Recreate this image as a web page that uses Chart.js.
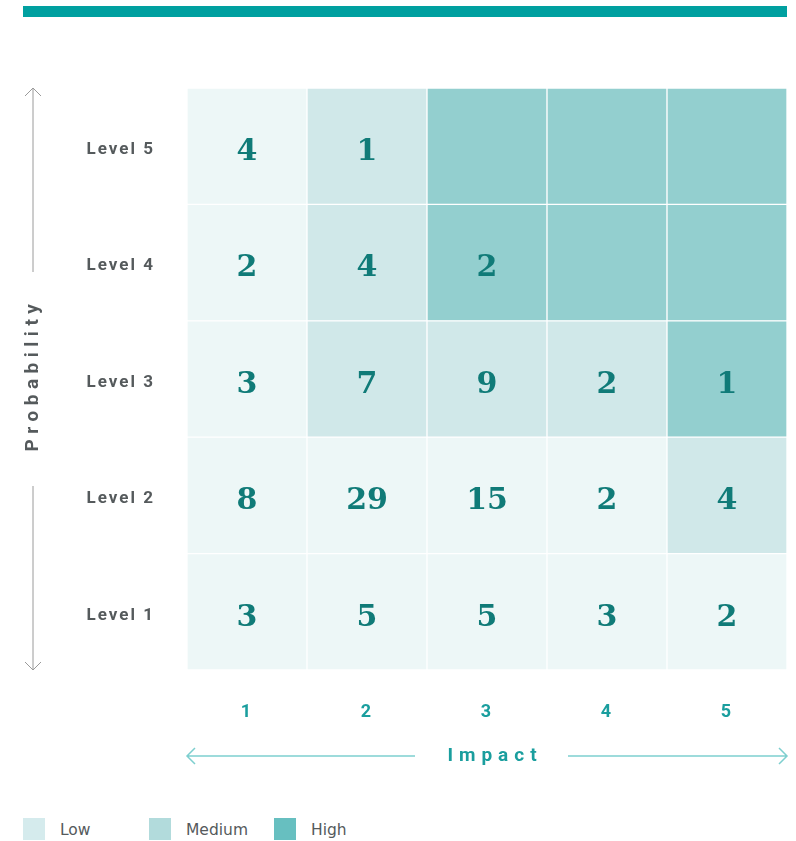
<!DOCTYPE html>
<html>
<head>
<meta charset="utf-8">
<script src="https://cdn.jsdelivr.net/npm/chart.js@4.4.1/dist/chart.umd.min.js"></script>
<style>
  html, body { margin: 0; padding: 0; background: #fff; }
  body { width: 796px; height: 841px; position: relative; overflow: hidden; }
  .topbar { position: absolute; left: 23px; top: 6px; width: 764px; height: 11px; background: #00a0a0; }
  .chartbox { position: absolute; left: 0; top: 0; width: 796px; height: 800px; }
  .legend { position: absolute; left: 0; top: 818px; font-family: "DejaVu Sans", sans-serif; font-size: 15.5px; color: #555a5c; }
  .legend span { position: absolute; top: 0; white-space: nowrap; }
  .legend i { position: absolute; top: 0; width: 22px; height: 22px; }
</style>
</head>
<body>
<div class="topbar"></div>
<div class="chartbox"><canvas id="riskChart"></canvas></div>
<div class="legend" id="legend"></div>
<script>
document.addEventListener('DOMContentLoaded', () => {
    const impactLabels = ['1', '2', '3', '4', '5'];
    const levelLabels = ['Level 1', 'Level 2', 'Level 3', 'Level 4', 'Level 5'];

    // counts per probability level (bottom to top), one value per impact column
    const level1Counts = [3, 5, 5, 3, 2];
    const level2Counts = [8, 29, 15, 2, 4];
    const level3Counts = [3, 7, 9, 2, 1];
    const level4Counts = [2, 4, 2, null, null];
    const level5Counts = [4, 1, null, null, null];

    // risk rating per cell: L = low, M = medium, H = high
    const level1Rating = ['L', 'L', 'L', 'L', 'L'];
    const level2Rating = ['L', 'L', 'L', 'L', 'M'];
    const level3Rating = ['L', 'M', 'M', 'M', 'H'];
    const level4Rating = ['L', 'M', 'H', 'H', 'H'];
    const level5Rating = ['L', 'M', 'H', 'H', 'H'];

    const legendNames = ['Low', 'Medium', 'High'];

    const counts = [level1Counts, level2Counts, level3Counts, level4Counts, level5Counts];
    const ratings = [level1Rating, level2Rating, level3Rating, level4Rating, level5Rating];

    const cellColors = { L: '#edf7f7', M: '#d0e8e9', H: '#93cfcf' };
    const legendColors = ['#d5ebed', '#b2dbdc', '#67bfc0'];

    const datasets = levelLabels.map((label, i) => ({
        label,
        data: impactLabels.map(() => 1),
        backgroundColor: ratings[i].map(r => cellColors[r]),
        borderColor: '#ffffff',
        borderWidth: 1,
        borderSkipped: false,
        barPercentage: 1,
        categoryPercentage: 1
    }));

    // letter spacing for the axis tick labels
    const spacingPlugin = {
        id: 'spacing',
        beforeDraw(chart) { chart.ctx.letterSpacing = '2px'; },
        beforeDatasetsDraw(chart) { chart.ctx.letterSpacing = '0px'; }
    };

    // numbers inside the cells
    const cellText = {
        id: 'cellText',
        afterDatasetsDraw(chart) {
            const ctx = chart.ctx;
            ctx.save();
            ctx.font = 'bold 30px "DejaVu Serif", serif';
            ctx.fillStyle = '#107b78';
            ctx.textAlign = 'center';
            ctx.textBaseline = 'middle';
            chart.data.datasets.forEach((ds, i) => {
                chart.getDatasetMeta(i).data.forEach((bar, j) => {
                    const v = counts[i][j];
                    if (v === null) return;
                    ctx.fillText(String(v), bar.x, (bar.y + bar.base) / 2 + 6);
                });
            });
            ctx.restore();
        }
    };

    // axis titles with arrows
    const axisArrows = {
        id: 'axisArrows',
        afterDraw(chart) {
            const ctx = chart.ctx;
            const area = chart.chartArea;
            ctx.save();

            // Impact
            const iy = 756;
            ctx.strokeStyle = '#7dcfcf';
            ctx.lineWidth = 1.5;
            ctx.beginPath();
            ctx.moveTo(area.left, iy); ctx.lineTo(415, iy);
            ctx.moveTo(568, iy); ctx.lineTo(area.right, iy);
            ctx.moveTo(area.left + 8, iy - 8); ctx.lineTo(area.left, iy); ctx.lineTo(area.left + 8, iy + 8);
            ctx.moveTo(area.right - 8, iy - 8); ctx.lineTo(area.right, iy); ctx.lineTo(area.right - 8, iy + 8);
            ctx.stroke();
            ctx.letterSpacing = '6px';
            ctx.font = 'bold 19px Roboto, sans-serif';
            ctx.fillStyle = '#1a9e9e';
            ctx.textAlign = 'center';
            ctx.textBaseline = 'middle';
            ctx.fillText('Impact', 495, iy);

            // Probability
            const px = 33;
            ctx.strokeStyle = '#9a9a9a';
            ctx.lineWidth = 1;
            ctx.beginPath();
            ctx.moveTo(px, area.top); ctx.lineTo(px, 272);
            ctx.moveTo(px, 486); ctx.lineTo(px, area.bottom);
            ctx.moveTo(px - 8, area.top + 8); ctx.lineTo(px, area.top); ctx.lineTo(px + 8, area.top + 8);
            ctx.moveTo(px - 8, area.bottom - 8); ctx.lineTo(px, area.bottom); ctx.lineTo(px + 8, area.bottom - 8);
            ctx.stroke();
            ctx.translate(px, 378);
            ctx.rotate(-Math.PI / 2);
            ctx.letterSpacing = '5.5px';
            ctx.font = 'bold 19px Roboto, sans-serif';
            ctx.fillStyle = '#555a5c';
            ctx.fillText('Probability', 3, 0);
            ctx.restore();
        }
    };

    const ctx = document.getElementById('riskChart').getContext('2d');
    new Chart(ctx, {
        type: 'bar',
        data: {
            labels: impactLabels,
            datasets
        },
        options: {
            responsive: true,
            maintainAspectRatio: false,
            animation: false,
            layout: { padding: { top: 88, right: 9, left: 0, bottom: 0 } },
            plugins: {
                legend: { display: false },
                tooltip: { enabled: false }
            },
            scales: {
                x: {
                    stacked: true,
                    grid: { display: false, drawTicks: false },
                    border: { display: false },
                    ticks: {
                        padding: 32,
                        color: '#1a9e9e',
                        font: { family: 'Roboto', size: 18, weight: 'bold' }
                    },
                    afterFit: s => { s.height = 130; }
                },
                y: {
                    stacked: true,
                    min: 0,
                    max: 5,
                    grid: { display: false, drawTicks: false },
                    border: { display: false },
                    afterBuildTicks: s => {
                        s.ticks = levelLabels.map((_, i) => ({ value: i + 0.47 }));
                    },
                    ticks: {
                        padding: 32,
                        color: '#555a5c',
                        font: { family: 'Roboto', size: 17, weight: 'bold' },
                        callback: v => levelLabels[Math.floor(v)]
                    },
                    afterFit: s => { s.width = 187; }
                }
            }
        },
        plugins: [spacingPlugin, cellText, axisArrows]
    });

    const legendEl = document.getElementById('legend');
    const legendX = [23, 149, 274];
    legendNames.forEach((name, i) => {
        const box = document.createElement('i');
        box.style.left = legendX[i] + 'px';
        box.style.background = legendColors[i];
        const txt = document.createElement('span');
        txt.style.left = (legendX[i] + 37) + 'px';
        txt.style.top = '3px';
        txt.textContent = name;
        legendEl.appendChild(box);
        legendEl.appendChild(txt);
    });
});
</script>
</body>
</html>
